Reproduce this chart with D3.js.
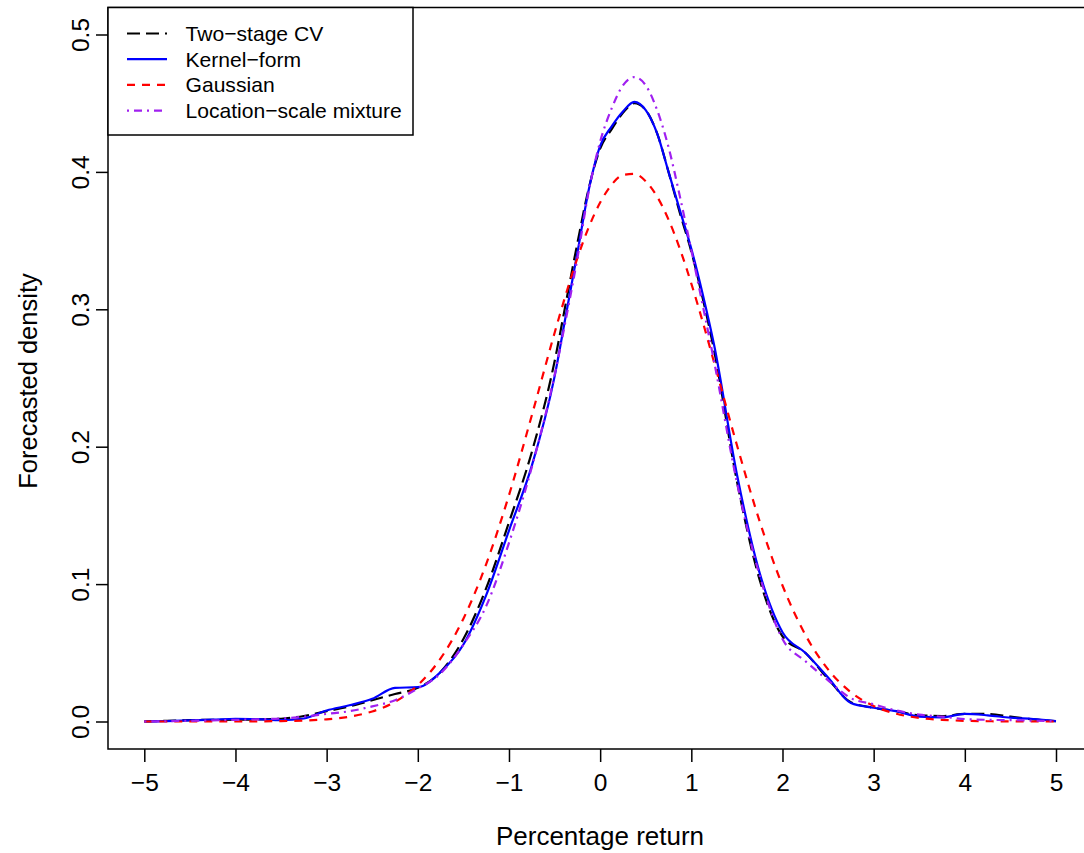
<!DOCTYPE html>
<html>
<head>
<meta charset="utf-8">
<script src="https://cdn.jsdelivr.net/npm/d3@7"></script>
<style>
  html, body { margin: 0; padding: 0; background: #fff; }
  svg { display: block; }
  text { font-family: "Liberation Sans", Arial, Helvetica, sans-serif; fill: #000; }
</style>
</head>
<body>
<div id="chart"></div>
<script>
// ---- data ----
const xGrid = [-5, -4.75, -4.5, -4.25, -4, -3.75, -3.5, -3.25, -3, -2.75, -2.5, -2.25, -2, -1.75, -1.5, -1.25, -1, -0.75, -0.5,
  -0.375, -0.25, -0.125, 0, 0.125, 0.25, 0.375, 0.5, 0.625, 0.75, 0.875, 1, 1.125, 1.25,
  1.5, 1.75, 2, 2.25, 2.5, 2.75, 3, 3.25, 3.5, 3.75, 4, 4.25, 4.5, 4.75, 5];

const twoStageCV = [0.0000, 0.0005, 0.0010, 0.0012, 0.0013, 0.0015, 0.0020, 0.0040, 0.0075, 0.0110, 0.0155, 0.0200, 0.0245, 0.0360, 0.0600, 0.0970, 0.1450, 0.1960, 0.2620,
  0.3050, 0.3480, 0.3880, 0.4170, 0.4310, 0.4430, 0.4500, 0.4450, 0.4280, 0.4000, 0.3700, 0.3420, 0.3080, 0.2700,
  0.1750, 0.1030, 0.0620, 0.0500, 0.0310, 0.0140, 0.0100, 0.0075, 0.0045, 0.0040, 0.0055, 0.0055, 0.0035, 0.0015, 0.0002];

const kernelForm = [0.0000, 0.0003, 0.0008, 0.0013, 0.0020, 0.0017, 0.0010, 0.0022, 0.0080, 0.0118, 0.0165, 0.0245, 0.0250, 0.0360, 0.0560, 0.0920, 0.1390, 0.1860, 0.2510,
  0.2960, 0.3410, 0.3870, 0.4190, 0.4330, 0.4440, 0.4510, 0.4450, 0.4280, 0.4000, 0.3720, 0.3440, 0.3110, 0.2740,
  0.1800, 0.1080, 0.0650, 0.0500, 0.0320, 0.0135, 0.0100, 0.0075, 0.0035, 0.0030, 0.0055, 0.0045, 0.0028, 0.0018, 0.0003];

const gaussian = [0.0000, 0.0000, 0.0000, 0.0000, 0.0000, 0.0001, 0.0003, 0.0007, 0.0016, 0.0035, 0.0073, 0.0143, 0.0264, 0.0459, 0.0748, 0.1146, 0.1647, 0.2227, 0.2828,
  0.3111, 0.3372, 0.3597, 0.3777, 0.3906, 0.3977, 0.3985, 0.3932, 0.3820, 0.3653, 0.3439, 0.3187, 0.2909, 0.2613,
  0.2012, 0.1456, 0.0990, 0.0632, 0.0379, 0.0213, 0.0113, 0.0056, 0.0026, 0.0012, 0.0005, 0.0002, 0.0001, 0.0000, 0.0000];

const locScaleMix = [0.0000, 0.0002, 0.0005, 0.0008, 0.0012, 0.0016, 0.0022, 0.0035, 0.0055, 0.0075, 0.0110, 0.0155, 0.0240, 0.0350, 0.0560, 0.0840, 0.1300, 0.1850, 0.2520,
  0.2930, 0.3370, 0.3860, 0.4220, 0.4460, 0.4630, 0.4690, 0.4630, 0.4450, 0.4180, 0.3820, 0.3430, 0.3030, 0.2620,
  0.1740, 0.1060, 0.0600, 0.0440, 0.0300, 0.0170, 0.0125, 0.0080, 0.0050, 0.0035, 0.0018, 0.0012, 0.0010, 0.0006, 0.0002];

const xTicks = [-5, -4, -3, -2, -1, 0, 1, 2, 3, 4, 5];
const yTicks = [0.0, 0.1, 0.2, 0.3, 0.4, 0.5];
const seriesNames = ["Two\u2212stage CV", "Kernel\u2212form", "Gaussian", "Location\u2212scale mixture"];
const xTitle = "Percentage return";
const yTitle = "Forecasted density";

// ---- layout ----
const W = 1084, H = 853;
const box = { left: 108, top: 7.5, right: 1100, bottom: 749 };

const x = d3.scaleLinear().domain([-5, 5]).range([144.3, 1056]);
const y = d3.scaleLinear().domain([0, 0.5]).range([721.5, 34.5]);

const svg = d3.select("#chart").append("svg").attr("width", W).attr("height", H);

const styles = [
  { color: "#000000", dash: "13,6", width: 2.2 },
  { color: "#0000ff", dash: null, width: 2.2 },
  { color: "#ff0000", dash: "8,7", width: 2.2 },
  { color: "#a020f0", dash: "2,5,8,5", width: 2.2 }
];
const seriesData = [twoStageCV, kernelForm, gaussian, locScaleMix];

// curves
const line = d3.line().x(d => x(d[0])).y(d => y(d[1])).curve(d3.curveMonotoneX);
seriesData.forEach((vals, i) => {
  const pts = xGrid.map((xv, j) => [xv, vals[j]]);
  svg.append("path")
    .attr("d", line(pts))
    .attr("fill", "none")
    .attr("stroke", styles[i].color)
    .attr("stroke-width", styles[i].width)
    .attr("stroke-dasharray", styles[i].dash)
    .attr("stroke-linejoin", "round");
});

// box
svg.append("rect")
  .attr("x", box.left).attr("y", box.top)
  .attr("width", box.right - box.left).attr("height", box.bottom - box.top)
  .attr("fill", "none").attr("stroke", "#000").attr("stroke-width", 1.5);

// x axis
const xAxis = d3.axisBottom(x).tickValues(xTicks).tickSize(13).tickPadding(8)
  .tickFormat(d => d < 0 ? "\u2212" + Math.abs(d) : String(d));
const gx = svg.append("g").attr("transform", `translate(0,${box.bottom})`).call(xAxis);
gx.select(".domain").remove();
gx.selectAll("line").attr("stroke", "#000").attr("stroke-width", 1.5);
gx.selectAll("text").attr("font-size", 24.5).attr("font-family", "Liberation Sans, Arial, sans-serif")
  .attr("y", 42).attr("dy", null);

// y axis
const yAxis = d3.axisLeft(y).tickValues(yTicks).tickSize(12).tickFormat(d3.format(".1f"));
const gy = svg.append("g").attr("transform", `translate(${box.left},0)`).call(yAxis);
gy.select(".domain").remove();
gy.selectAll("line").attr("stroke", "#000").attr("stroke-width", 1.5);
gy.selectAll("text")
  .attr("font-size", 24.5).attr("font-family", "Liberation Sans, Arial, sans-serif")
  .attr("x", null).attr("dy", null)
  .attr("text-anchor", "middle")
  .attr("transform", "translate(-19,0) rotate(-90)");

// titles
svg.append("text").attr("x", 600).attr("y", 845).attr("text-anchor", "middle")
  .attr("font-size", 26).text(xTitle);
svg.append("text").attr("transform", `translate(37,${y(0.25) + 3}) rotate(-90)`).attr("text-anchor", "middle")
  .attr("font-size", 25.5).text(yTitle);

// legend
const lg = svg.append("g");
lg.append("rect").attr("x", box.left).attr("y", box.top).attr("width", 413 - box.left).attr("height", 135 - box.top)
  .attr("fill", "#fff").attr("stroke", "#000").attr("stroke-width", 1.5);
seriesNames.forEach((name, i) => {
  const ly = 33.5 + i * 25.7;
  lg.append("line").attr("x1", 127).attr("x2", 167).attr("y1", ly).attr("y2", ly)
    .attr("stroke", styles[i].color).attr("stroke-width", styles[i].width)
    .attr("stroke-dasharray", styles[i].dash);
  lg.append("text").attr("x", 185.5).attr("y", ly + 7.4).attr("font-size", 21.1).text(name);
});
</script>
</body>
</html>
